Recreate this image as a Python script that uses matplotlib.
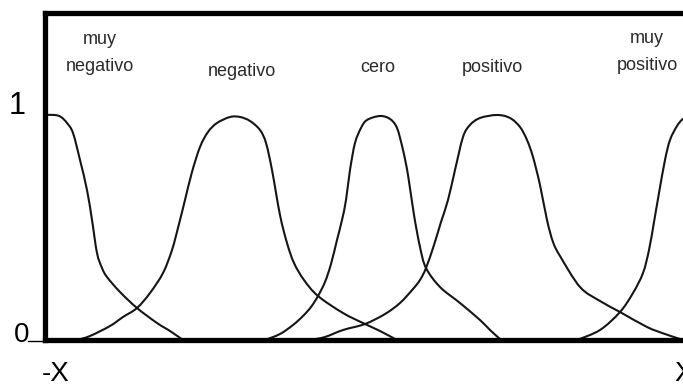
import numpy as np
import matplotlib.pyplot as plt
from matplotlib.path import Path
from matplotlib.patches import PathPatch

def px(xs):
    return (np.array(xs, dtype=float) - 375) / 330

def py(ys):
    return (340 - np.array(ys, dtype=float)) / 224

muy_neg_x = px([46, 55, 61, 67, 73, 80, 87, 92, 97, 102, 107, 120, 137, 157, 170, 183])
muy_neg_y = py([115, 115, 117, 123, 133, 160, 190, 220, 253, 268, 277, 292, 308, 323, 331, 340])

neg_x = px([77, 90, 110, 123, 137, 150, 163, 172, 179, 185, 192, 200, 208, 217, 230, 240,
            250, 260, 266, 272, 280, 287, 294, 304, 318, 343, 365, 380, 395])
neg_y = py([340, 336, 326, 317, 308, 293, 273, 250, 224, 200, 172, 147, 132, 123, 117, 117,
            121, 130, 143, 170, 215, 243, 263, 280, 296, 313, 324, 331, 339])

cero_x = px([265, 280, 293, 303, 311, 318, 325, 331, 337, 342, 346, 350, 355, 361, 367, 380, 390,
             397, 403, 408, 414, 420, 426, 440, 460, 480, 490, 500])
cero_y = py([340, 334, 325, 316, 307, 296, 282, 264, 240, 220, 200, 170, 143, 128, 120, 116, 119,
             128, 150, 175, 215, 247, 268, 287, 303, 320, 330, 339])

pos_x = px([310, 325, 343, 365, 385, 400, 413, 420, 426, 434, 441, 448, 455, 463, 470, 480, 497,
            510, 520, 527, 533, 540, 547, 553, 560, 580, 600, 620, 647, 665, 680])
pos_y = py([340, 337, 330, 324, 314, 303, 289, 280, 268, 245, 222, 200, 170, 137, 125, 118, 115,
            118, 127, 140, 157, 185, 220, 242, 256, 287, 301, 312, 327, 334, 339])

muy_pos_x = px([577, 600, 620, 633, 643, 649, 654, 659, 665, 670, 677, 683, 692, 705])
muy_pos_y = py([340, 330, 312, 293, 273, 250, 222, 193, 160, 140, 126, 119, 115, 115])

curvas = [(muy_neg_x, muy_neg_y), (neg_x, neg_y), (cero_x, cero_y),
          (pos_x, pos_y), (muy_pos_x, muy_pos_y)]

etiquetas = ['muy\nnegativo', 'negativo', 'cero', 'positivo', 'muy\npositivo']
etiq_x = px([100, 242, 378, 492, 647])
etiq_y = py([53, 72, 68, 67, 52])


def trazo_suave(xs, ys):
    # camino Bezier que pasa por todos los puntos (Catmull-Rom)
    p = np.column_stack([xs, ys])
    ext = np.vstack([p[0], p, p[-1]])
    verts = [p[0]]
    codes = [Path.MOVETO]
    for i in range(1, len(ext) - 2):
        p0, p1, p2, p3 = ext[i - 1], ext[i], ext[i + 1], ext[i + 2]
        verts += [p1 + (p2 - p0) / 6, p2 - (p3 - p1) / 6, p2]
        codes += [Path.CURVE4] * 3
    return Path(verts, codes)


fig = plt.figure(figsize=(6.83, 3.88), dpi=100)
ax = fig.add_axes([45 / 683, 1 - 340 / 388, 660 / 683, 327 / 388])
ax.set_xlim(-1, 1)
ax.set_ylim(0, 327 / 224)

for xs, ys in curvas:
    ax.add_patch(PathPatch(trazo_suave(xs, ys), fill=False, edgecolor='#151515', lw=1.5))

for t, x, y in zip(etiquetas, etiq_x, etiq_y):
    ax.text(x, y, t, ha='center', va='center', fontsize=13, family='Liberation Sans',
            linespacing=1.75, color='#2a2a2a')

for s in ax.spines.values():
    s.set_linewidth(3.8)
    s.set_color('black')
ax.set_xticks([])
ax.set_yticks([])

# rotulos de los ejes
fig.text(17 / 683, 1 - 106 / 388, '1', ha='center', va='center', fontsize=22, family='Liberation Sans')
fig.text(22 / 683, 1 - 335 / 388, '0', ha='center', va='center', fontsize=20, family='Liberation Sans')
fig.add_artist(plt.Line2D([28 / 683, 45 / 683], [1 - 341 / 388] * 2, color='black', lw=1))
fig.text(56 / 683, 1 - 374 / 388, '-X', ha='center', va='center', fontsize=20, family='Liberation Sans')
fig.text(674 / 683, 1 - 374 / 388, 'X', ha='left', va='center', fontsize=20, family='Liberation Sans')

fig.savefig('out.png', dpi=100)
